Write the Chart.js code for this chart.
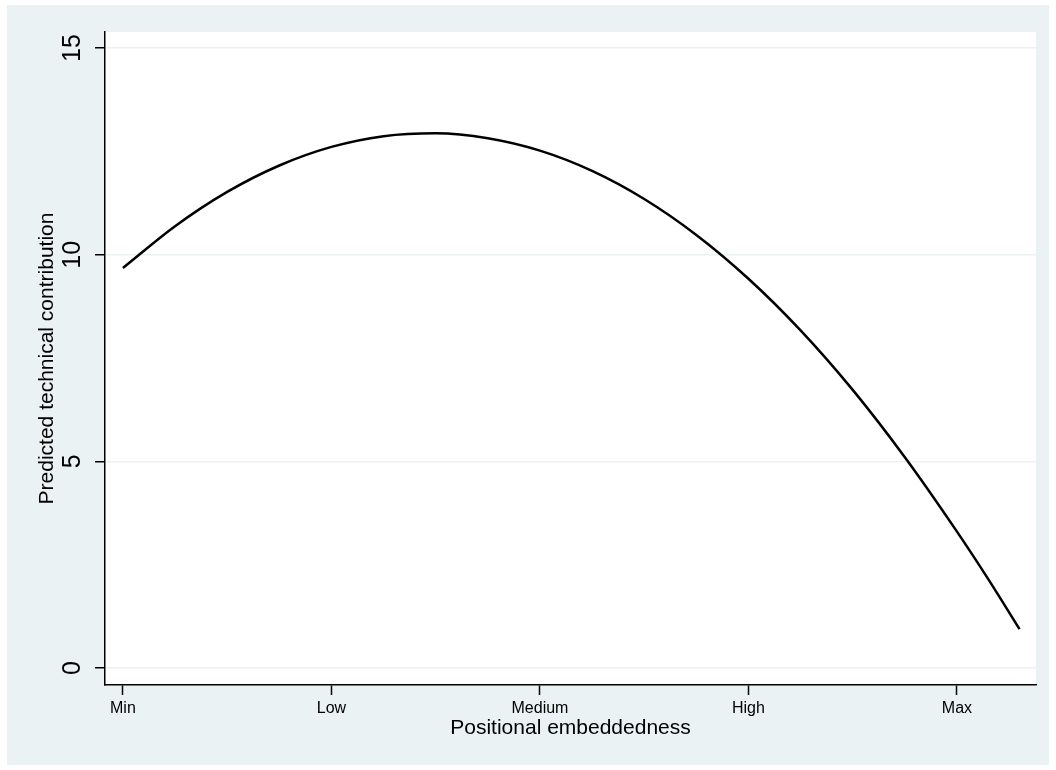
<!DOCTYPE html>
<html>
<head>
<meta charset="utf-8">
<script src="https://cdn.jsdelivr.net/npm/chart.js@4"></script>
<style>
  html, body { margin: 0; padding: 0; background: #ffffff; }
  #wrap { width: 1056px; height: 770px; }
</style>
</head>
<body>
<div id="wrap"><canvas id="chart" width="1056" height="770"></canvas></div>
<script>
'use strict';

// embeddedness position (0 = Min ... 4 = Max), predicted contribution
const embedX = [0, 0.25, 0.5, 0.75, 1, 1.25, 1.5, 1.75, 2, 2.25, 2.5, 2.75, 3, 3.25, 3.5, 3.75, 4, 4.15, 4.3];
const predY = [9.68, 10.69, 11.52, 12.16, 12.61, 12.87, 12.94, 12.82, 12.52, 12.03, 11.35, 10.48, 9.42, 8.17, 6.73, 5.1, 3.3, 2.15, 0.94];

const xTickVals = [0, 1, 2, 3, 4];
const xTickLabels = ['Min', 'Low', 'Medium', 'High', 'Max'];
const yTickVals = [0, 5, 10, 15];

const BG = '#EAF2F3';
const FONT = '"Liberation Sans", Arial, Helvetica, sans-serif';

let canvasElem = document.getElementById('chart');

const bgPlugin = {
  id: 'stataBg',
  beforeDraw(chart) {
    const ctx = chart.ctx;
    const a = chart.chartArea;
    ctx.save();
    ctx.fillStyle = '#ffffff';
    ctx.fillRect(0, 0, chart.width, chart.height);
    ctx.fillStyle = BG;
    ctx.fillRect(7, 5, 1042, 760);
    ctx.fillStyle = '#ffffff';
    ctx.fillRect(a.left, a.top, a.right - a.left, a.bottom - a.top);
    ctx.restore();
  }
};

function renderChart() {
  const points = embedX.map((x, i) => ({ x: x, y: predY[i] }));

  const data = {
    datasets: [{
      data: points,
      showLine: true,
      borderColor: '#000000',
      borderWidth: 2.5,
      pointRadius: 0,
      cubicInterpolationMode: 'monotone',
      fill: false
    }]
  };

  const config = {
    type: 'scatter',
    data: data,
    plugins: [bgPlugin],
    options: {
      responsive: false,
      animation: false,
      layout: { padding: { top: 32, right: 20, bottom: 0, left: 0 } },
      plugins: { legend: { display: false }, tooltip: { enabled: false } },
      scales: {
        x: {
          type: 'linear',
          min: -0.086,
          max: 4.379,
          afterBuildTicks: (s) => { s.ticks = xTickVals.map(v => ({ value: v })); },
          afterFit: (s) => { s.height = 85; },
          ticks: {
            autoSkip: false,
            maxRotation: 0,
            padding: 4,
            color: '#000000',
            font: { family: FONT, size: 16 },
            callback: (v) => xTickLabels[xTickVals.indexOf(v)]
          },
          grid: { drawOnChartArea: false, tickLength: 10, tickColor: '#000000', tickWidth: 1.5 },
          border: { color: '#000000', width: 1.5 },
          title: {
            display: true,
            text: 'Positional embeddedness',
            color: '#000000',
            font: { family: FONT, size: 21 },
            padding: { top: 0, bottom: 29 }
          }
        },
        y: {
          min: -0.41,
          max: 15.39,
          afterBuildTicks: (s) => { s.ticks = yTickVals.map(v => ({ value: v })); },
          afterFit: (s) => { s.width = 105; },
          ticks: {
            minRotation: 90,
            maxRotation: 90,
            crossAlign: 'center',
            padding: 8,
            color: '#000000',
            font: { family: FONT, size: 25 }
          },
          grid: { color: BG, lineWidth: 1.5, tickLength: 10, tickColor: '#000000', tickWidth: 1.5 },
          border: { color: '#000000', width: 1.5 },
          title: {
            display: true,
            text: 'Predicted technical contribution',
            color: '#000000',
            font: { family: FONT, size: 21 },
            padding: { top: 35, bottom: 0 }
          }
        }
      }
    }
  };
  const myChart = new Chart(canvasElem, config);
}

renderChart();
</script>
</body>
</html>
